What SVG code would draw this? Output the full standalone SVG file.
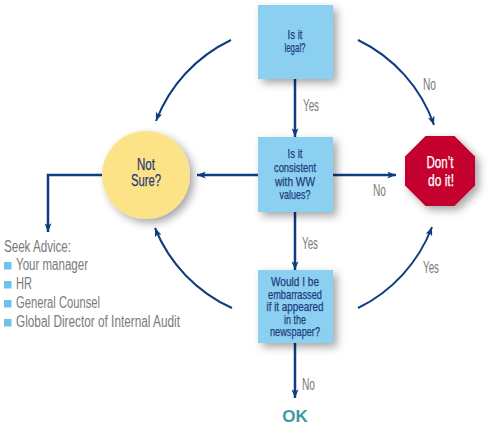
<svg xmlns="http://www.w3.org/2000/svg" width="488" height="426" viewBox="0 0 488 426">
<defs>
<filter id="sh" x="-20%" y="-20%" width="150%" height="150%">
<feDropShadow dx="4" dy="4" stdDeviation="4" flood-color="#000" flood-opacity="0.35"/>
</filter>
<marker id="ah" viewBox="0 0 10 8" refX="10" refY="4" markerWidth="9" markerHeight="7" markerUnits="userSpaceOnUse" orient="auto">
<path d="M0,0 L10,4 L0,8 L2.5,4 z" fill="#0e3c80"/>
</marker>
<style>
text{font-family:"Liberation Sans",Arial,sans-serif}
.box{fill:#8bcff1;filter:url(#sh)}
.t{fill:#1f3c7a;stroke:#1f3c7a;stroke-width:0.25;text-anchor:middle;font-size:13.5px}
.big{font-size:16px}
.w{fill:#fff;stroke:#fff}
.lbl{fill:#7a7a7a;font-size:16px}
.adv{fill:#7a7a7a;font-size:16px}
.ln{fill:none;stroke:#0e3c80;stroke-width:2.5}
.arc{fill:none;stroke:#0e3c80;stroke-width:2}
.bul{fill:#6cc4ee}
</style>
</defs>

<g id="connectors">
<path class="ln" d="M295,79 L295,137" marker-end="url(#ah)"/>
<path class="ln" d="M295,212 L295,270" marker-end="url(#ah)"/>
<path class="ln" d="M295,343 L295,398" marker-end="url(#ah)"/>
<path class="ln" d="M258,175 L197,175" marker-end="url(#ah)"/>
<path class="ln" d="M333,175 L396,175" marker-end="url(#ah)"/>
<path class="ln" d="M102,175 L48,175 L48,232" stroke-width="2" marker-end="url(#ah)"/>
<path class="arc" d="M231,40 A149,149 0 0 0 156,121" marker-end="url(#ah)"/>
<path class="arc" d="M358,40 A149,149 0 0 1 434,125" marker-end="url(#ah)"/>
<path class="arc" d="M358,308 A149,149 0 0 0 432,227" marker-end="url(#ah)"/>
<path class="arc" d="M232,308 A149,149 0 0 1 155,228" marker-end="url(#ah)"/>
<text class="lbl" x="303" y="111" textLength="16" lengthAdjust="spacingAndGlyphs">Yes</text>
<text class="lbl" x="302" y="249" textLength="16" lengthAdjust="spacingAndGlyphs">Yes</text>
<text class="lbl" x="302" y="390" textLength="13" lengthAdjust="spacingAndGlyphs">No</text>
<text class="lbl" x="373" y="196" textLength="13" lengthAdjust="spacingAndGlyphs">No</text>
<text class="lbl" x="423" y="90" textLength="13" lengthAdjust="spacingAndGlyphs">No</text>
<text class="lbl" x="423" y="273" textLength="16" lengthAdjust="spacingAndGlyphs">Yes</text>
</g>

<g id="legal">
<rect class="box" x="258" y="5" width="75" height="74"/>
<text class="t" x="295" y="39" textLength="15" lengthAdjust="spacingAndGlyphs">Is it</text>
<text class="t" x="295" y="52" textLength="21" lengthAdjust="spacingAndGlyphs">legal?</text>
</g>

<g id="consistent">
<rect class="box" x="258" y="137" width="75" height="75"/>
<text class="t" x="295" y="158" textLength="15" lengthAdjust="spacingAndGlyphs">Is it</text>
<text class="t" x="295" y="172" textLength="42" lengthAdjust="spacingAndGlyphs">consistent</text>
<text class="t" x="295" y="185.5" textLength="40" lengthAdjust="spacingAndGlyphs">with WW</text>
<text class="t" x="295" y="199" textLength="31" lengthAdjust="spacingAndGlyphs">values?</text>
</g>

<g id="embarrassed">
<rect class="box" x="258" y="270" width="75" height="73"/>
<text class="t" x="295" y="286" textLength="48" lengthAdjust="spacingAndGlyphs">Would I be</text>
<text class="t" x="295" y="298.5" textLength="54" lengthAdjust="spacingAndGlyphs">embarrassed</text>
<text class="t" x="295" y="311" textLength="57" lengthAdjust="spacingAndGlyphs">if it appeared</text>
<text class="t" x="295" y="323.5" textLength="22" lengthAdjust="spacingAndGlyphs">in the</text>
<text class="t" x="295" y="336" textLength="50" lengthAdjust="spacingAndGlyphs">newspaper?</text>
</g>

<g id="notsure">
<circle cx="146" cy="175" r="44" fill="#fde387" filter="url(#sh)"/>
<text class="t big" x="146" y="170" textLength="18" lengthAdjust="spacingAndGlyphs">Not</text>
<text class="t big" x="146" y="186" textLength="30" lengthAdjust="spacingAndGlyphs">Sure?</text>
</g>

<g id="dontdoit">
<polygon points="425.5,136 454.5,136 475,156.5 475,185.5 454.5,206 425.5,206 405,185.5 405,156.5" fill="#c4002e" filter="url(#sh)"/>
<text class="t big w" x="440" y="168" textLength="27" lengthAdjust="spacingAndGlyphs">Don’t</text>
<text class="t big w" x="441" y="186" textLength="26" lengthAdjust="spacingAndGlyphs">do it!</text>
</g>

<g id="ok">
<text x="295" y="422" text-anchor="middle" font-weight="bold" font-size="17" fill="#3d9a9e">OK</text>
</g>

<g id="advice">
<text class="adv" x="4" y="252" textLength="67" lengthAdjust="spacingAndGlyphs">Seek Advice:</text>
<rect class="bul" x="4" y="262" width="7.5" height="7.5"/>
<text class="adv" x="16" y="270" textLength="72" lengthAdjust="spacingAndGlyphs">Your manager</text>
<rect class="bul" x="4" y="281" width="7.5" height="7.5"/>
<text class="adv" x="16" y="289" textLength="16" lengthAdjust="spacingAndGlyphs">HR</text>
<rect class="bul" x="4" y="300" width="7.5" height="7.5"/>
<text class="adv" x="16" y="308" textLength="84" lengthAdjust="spacingAndGlyphs">General Counsel</text>
<rect class="bul" x="4" y="319" width="7.5" height="7.5"/>
<text class="adv" x="16" y="327" textLength="164" lengthAdjust="spacingAndGlyphs">Global Director of Internal Audit</text>
</g>
</svg>
